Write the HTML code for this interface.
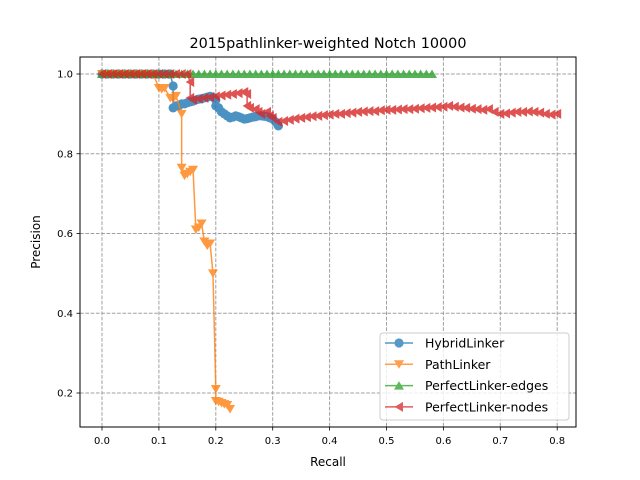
<!DOCTYPE html>
<html><head><meta charset="utf-8"><style>
body{margin:0;background:#fff;}
svg{display:block;font-family:"DejaVu Sans","Liberation Sans",sans-serif;}
</style></head><body>
<svg id="chart" width="640" height="480">
<rect width="640" height="480" fill="#fff"/>
<text x="328" y="48" text-anchor="middle" font-size="14.4">2015pathlinker-weighted Notch 10000</text>
<g id="grid"></g>
<g id="series"></g>
<rect x="80" y="57" width="496" height="370" fill="none" stroke="#000" stroke-width="1"/>
<g id="ticks"></g>
<text x="328" y="466" text-anchor="middle" font-size="12">Recall</text>
<text x="40" y="242" text-anchor="middle" font-size="12" transform="rotate(-90 40 242)">Precision</text>
<g id="legend">
<rect x="380" y="333" width="189" height="87" rx="3" fill="#fff" fill-opacity="0.8" stroke="#ccc"/>
</g>
</svg>
<script>
const xTicks=[0,0.1,0.2,0.3,0.4,0.5,0.6,0.7,0.8];
const xTickLabels=["0.0","0.1","0.2","0.3","0.4","0.5","0.6","0.7","0.8"];
const yTicks=[0.2,0.4,0.6,0.8,1.0];
const yTickLabels=["0.2","0.4","0.6","0.8","1.0"];
const seriesNames=["HybridLinker","PathLinker","PerfectLinker-edges","PerfectLinker-nodes"];
const hybridX=[0,0.01,0.02,0.03,0.04,0.05,0.06,0.07,0.08,0.09,0.1,0.11,0.12,0.125,0.125,0.13,0.135,0.14,0.145,0.15,0.155,0.16,0.165,0.17,0.175,0.18,0.185,0.19,0.195,0.2,0.2,0.205,0.21,0.215,0.22,0.225,0.23,0.235,0.24,0.245,0.25,0.255,0.26,0.265,0.27,0.275,0.28,0.285,0.29,0.295,0.3,0.305,0.31];
const hybridY=[1,1,1,1,1,1,1,1,1,1,1,1,1,0.97,0.915,0.92,0.92,0.925,0.925,0.928,0.93,0.932,0.935,0.937,0.938,0.94,0.942,0.944,0.942,0.935,0.92,0.915,0.905,0.9,0.895,0.89,0.892,0.895,0.893,0.89,0.887,0.888,0.89,0.892,0.893,0.895,0.895,0.894,0.893,0.89,0.887,0.88,0.87];
const pathX=[0,0.01,0.02,0.03,0.04,0.05,0.06,0.07,0.08,0.09,0.1,0.105,0.11,0.12,0.125,0.13,0.14,0.14,0.145,0.15,0.155,0.16,0.165,0.17,0.175,0.18,0.185,0.19,0.195,0.2,0.2,0.205,0.21,0.215,0.22,0.225];
const pathY=[1,1,1,1,1,1,1,1,1,1,0.965,0.962,0.965,0.94,0.938,0.945,0.9,0.765,0.745,0.75,0.755,0.76,0.61,0.615,0.625,0.58,0.57,0.575,0.50,0.21,0.18,0.178,0.175,0.172,0.17,0.16];
const edgesX=[0,0.01,0.02,0.03,0.04,0.05,0.06,0.07,0.08,0.09,0.1,0.11,0.12,0.13,0.14,0.15,0.16,0.17,0.18,0.19,0.2,0.21,0.22,0.23,0.24,0.25,0.26,0.27,0.28,0.29,0.3,0.31,0.32,0.33,0.34,0.35,0.36,0.37,0.38,0.39,0.4,0.41,0.42,0.43,0.44,0.45,0.46,0.47,0.48,0.49,0.5,0.51,0.52,0.53,0.54,0.55,0.56,0.57,0.58];
const edgesY=[1,1,1,1,1,1,1,1,1,1,1,1,1,1,1,1,1,1,1,1,1,1,1,1,1,1,1,1,1,1,1,1,1,1,1,1,1,1,1,1,1,1,1,1,1,1,1,1,1,1,1,1,1,1,1,1,1,1,1];
const nodesX=[0,0.01,0.02,0.03,0.04,0.05,0.06,0.07,0.08,0.09,0.1,0.11,0.12,0.13,0.14,0.15,0.155,0.155,0.16,0.17,0.18,0.19,0.2,0.21,0.22,0.23,0.24,0.25,0.255,0.255,0.26,0.27,0.275,0.28,0.29,0.295,0.3,0.31,0.32,0.33,0.34,0.35,0.36,0.37,0.38,0.39,0.4,0.41,0.42,0.43,0.44,0.45,0.46,0.47,0.48,0.49,0.5,0.51,0.52,0.53,0.54,0.55,0.56,0.57,0.58,0.59,0.6,0.61,0.62,0.63,0.64,0.65,0.66,0.67,0.68,0.69,0.7,0.71,0.72,0.73,0.74,0.75,0.76,0.77,0.78,0.79,0.8];
const nodesY=[1,1,1,1,1,1,1,1,1,1,1,1,1,1,1,1,0.98,0.94,0.935,0.938,0.94,0.942,0.944,0.946,0.948,0.95,0.952,0.955,0.95,0.92,0.915,0.912,0.905,0.9,0.905,0.895,0.89,0.88,0.882,0.885,0.888,0.89,0.892,0.894,0.895,0.897,0.898,0.9,0.9,0.902,0.903,0.905,0.906,0.907,0.907,0.909,0.91,0.91,0.911,0.912,0.912,0.913,0.914,0.915,0.916,0.917,0.918,0.92,0.918,0.916,0.915,0.913,0.912,0.91,0.912,0.905,0.9,0.901,0.903,0.905,0.905,0.906,0.905,0.903,0.9,0.898,0.9];

const NS="http://www.w3.org/2000/svg";
function X(v){return 102+v*569;}
function Y(v){return 74+(1-v)*398.75;}
function mk(tag,attrs,parent){const e=document.createElementNS(NS,tag);for(const k in attrs)e.setAttribute(k,attrs[k]);parent.appendChild(e);return e;}
const grid=document.getElementById('grid'),ticks=document.getElementById('ticks'),ser=document.getElementById('series'),leg=document.getElementById('legend');
xTicks.forEach((t,i)=>{
  const g=mk('line',{x1:X(t),x2:X(t),y1:57,y2:427,stroke:'#a0a0a0','stroke-dasharray':'3.7,1.6','stroke-width':1},grid);
  
  
  const tk=mk('line',{x1:X(t),x2:X(t),y1:427,y2:430.5,stroke:'#000','stroke-width':0.8},ticks);
  
  
  const tx=mk('text',{x:X(t),y:444,'text-anchor':'middle','font-size':10},ticks);tx.textContent=xTickLabels[i];
  
  
});
yTicks.forEach((t,i)=>{
  const g=mk('line',{x1:80,x2:576,y1:Y(t),y2:Y(t),stroke:'#a0a0a0','stroke-dasharray':'3.7,1.6','stroke-width':1},grid);
  
  
  const tk=mk('line',{x1:76.5,x2:80,y1:Y(t),y2:Y(t),stroke:'#000','stroke-width':0.8},ticks);
  
  
  const tx=mk('text',{x:73,y:Y(t)+3.5,'text-anchor':'end','font-size':10},ticks);tx.textContent=yTickLabels[i];
  
  
});
function marker(type,x,y,color,parent){
  const s=5;let e;
  if(type==='o')e=mk('circle',{cx:x,cy:y,r:4.6,fill:color},parent);
  else{let p;
    if(type==='v')p=[[x-s,y-s*0.8],[x+s,y-s*0.8],[x,y+s*0.9]];
    if(type==='^')p=[[x-s,y+s*0.8],[x+s,y+s*0.8],[x,y-s*0.9]];
    if(type==='<')p=[[x+s*0.8,y-s],[x+s*0.8,y+s],[x-s*0.9,y]];
    e=mk('polygon',{points:p.map(q=>q.join(',')).join(' '),fill:color},parent);}
  return e;
}
const defs=[[hybridX,hybridY,'#1f77b4','o','hybridlinker'],[pathX,pathY,'#ff7f0e','v','pathlinker'],[edgesX,edgesY,'#2ca02c','^','perfectlinker-edges'],[nodesX,nodesY,'#d62728','<','perfectlinker-nodes']];
defs.forEach(([xs,ys,c,m,n])=>{
  const g=mk('g',{opacity:0.8},ser);
  
  
  const pl=mk('polyline',{points:xs.map((x,i)=>X(x)+','+Y(ys[i])).join(' '),fill:'none',stroke:c,'stroke-width':1.5},g);
  
  
  xs.forEach((x,i)=>{const e=marker(m,X(x),Y(ys[i]),c,g);
    
    });
});
defs.forEach(([xs,ys,c,m,n],i)=>{
  const y=343+i*21.3;
  const g=mk('g',{},leg);
  
  
  const gg=mk('g',{opacity:0.75},g);
  mk('line',{x1:385,x2:413,y1:y,y2:y,stroke:c,'stroke-width':1.5},gg);
  marker(m,399,y,c,gg);
  const t=mk('text',{x:425,y:y+4.5,'font-size':12.5},g);t.textContent=seriesNames[i];
});
</script>
</body></html>
